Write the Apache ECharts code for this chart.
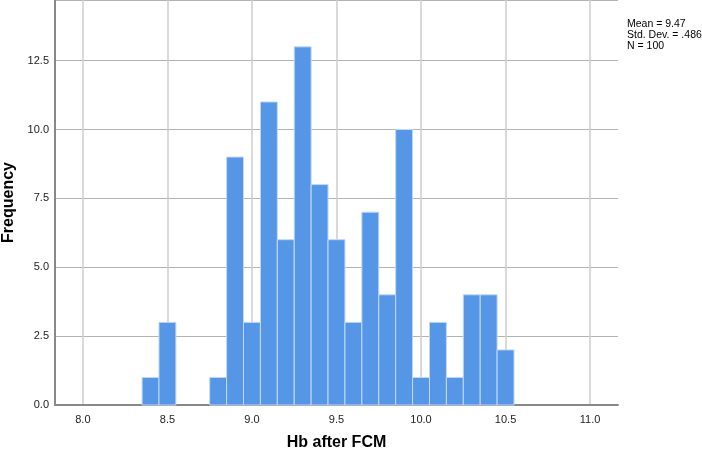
<!DOCTYPE html>
<html>
<head>
<meta charset="utf-8">
<script src="https://cdn.jsdelivr.net/npm/echarts@6/dist/echarts.min.js"></script>
<style>
  html, body { margin: 0; padding: 0; background: #fff; }
  #chart { width: 702px; height: 452px; }
</style>
</head>
<body>
<div id="chart"></div>
<script>
// 数据：每个柱子的中心值和频数（组宽 0.1）
var binCenters = [8.4, 8.5, 8.8, 8.9, 9.0, 9.1, 9.2, 9.3, 9.4, 9.5, 9.6, 9.7, 9.8, 9.9, 10.0, 10.1, 10.2, 10.3, 10.4, 10.5];
var binCounts = [1, 3, 1, 9, 3, 11, 6, 13, 8, 6, 3, 7, 4, 10, 1, 3, 1, 4, 4, 2];
var binWidth = 0.1;
var xTicks = [8.0, 8.5, 9.0, 9.5, 10.0, 10.5, 11.0];
var statsLines = ['Mean = 9.47', 'Std. Dev. = .486', 'N = 100'];

(function () {
  var myChart = echarts.init(document.getElementById('chart'));
  var data = binCenters.map(function (c, i) {
    return [c - binWidth / 2, c + binWidth / 2, binCounts[i]];
  });
  var font = 'Liberation Sans, Arial, sans-serif';
  var option = {
    animation: false,
    grid: {
      left: 55,
      right: 84,
      top: 0,
      bottom: 47,
      outerBoundsMode: 'none',
      containLabel: false
    },
    xAxis: {
      type: 'value',
      min: 7.835,
      max: 11.165,
      name: 'Hb after FCM',
      nameLocation: 'middle',
      nameGap: 30,
      nameTextStyle: { fontFamily: font, fontSize: 16, fontWeight: 'bold', color: '#000' },
      axisLine: { lineStyle: { color: '#888', width: 2 } },
      axisTick: { show: false, customValues: xTicks },
      axisLabel: {
        customValues: xTicks,
        fontFamily: font,
        fontSize: 11,
        color: '#222',
        margin: 9,
        formatter: function (v) { return v.toFixed(1); }
      },
      splitLine: { show: true, lineStyle: { color: '#cccccc', width: 1.5 } }
    },
    yAxis: {
      type: 'value',
      min: 0,
      max: 14.7,
      interval: 2.5,
      name: 'Frequency',
      nameLocation: 'middle',
      nameGap: 36,
      nameTextStyle: { fontFamily: font, fontSize: 16, fontWeight: 'bold', color: '#000' },
      axisLine: { show: true, lineStyle: { color: '#888', width: 2 } },
      axisTick: { show: false },
      axisLabel: {
        fontFamily: font,
        fontSize: 11,
        color: '#222',
        margin: 6,
        showMaxLabel: false,
        formatter: function (v) { return v.toFixed(1); }
      },
      splitLine: { show: true, lineStyle: { color: '#b4b4b4', width: 1 } }
    },
    graphic: [
      {
        type: 'text',
        left: 627,
        top: 19,
        style: {
          text: statsLines.join('\n'),
          fontFamily: font,
          fontSize: 10.5,
          lineHeight: 11,
          fill: '#000'
        }
      }
    ],
    series: [
      {
        type: 'custom',
        renderItem: function (params, api) {
          var p0 = api.coord([api.value(0), 0]);
          var p1 = api.coord([api.value(1), api.value(2)]);
          return {
            type: 'rect',
            shape: { x: p0[0], y: p1[1], width: p1[0] - p0[0], height: p0[1] - p1[1] },
            style: { fill: '#5596e6', stroke: '#c4d8f4', lineWidth: 1 }
          };
        },
        encode: { x: [0, 1], y: 2 },
        data: data
      }
    ]
  };
  myChart.setOption(option);
})();
</script>
</body>
</html>
